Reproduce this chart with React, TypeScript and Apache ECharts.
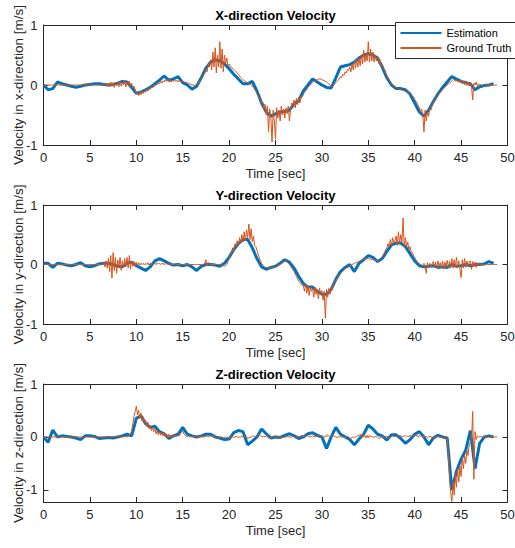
import React, { useEffect, useRef } from "react";
import * as echarts from "echarts";

// ---------------- data ----------------
const titles = ["X-direction Velocity", "Y-direction Velocity", "Z-direction Velocity"];
const yAxisNames = [
  "Velocity in x-direction [m/s]",
  "Velocity in y-direction [m/s]",
  "Velocity in z-direction [m/s]",
];
const xAxisName = "Time [sec]";
const seriesNames = ["Estimation", "Ground Truth"];
const timeMin = 0;
const timeMax = 50;
const timeTickStep = 5;
const yMins = [-1, -1, -1.23];
const yMaxs = [1, 1, 1];
const yTickValues = [-1, 0, 1];

// sample spacing (seconds) of the two signals
const estDt = 0.5;
const gtDt = 0.125;

// Estimation, one value every 0.5 s from 0 s
const estX = [
  0, -0.08, -0.06, 0.05, 0.02, 0, -0.02, -0.04, -0.02, 0,
  0.01, 0.02, 0.02, 0.01, 0, 0.01, 0.03, 0.06, 0.05, -0.04,
  -0.14, -0.12, -0.08, -0.04, 0.02, 0.08, 0.15, 0.08, 0.1, 0.14,
  0.04, 0, -0.07, -0.02, 0.12, 0.28, 0.38, 0.42, 0.4, 0.35,
  0.27, 0.18, 0.1, 0.02, 0.02, 0.06, -0.1, -0.3, -0.45, -0.52,
  -0.48, -0.45, -0.44, -0.42, -0.32, -0.26, -0.1, 0, 0.1, 0.05,
  0, -0.04, -0.05, 0.12, 0.3, 0.32, 0.34, 0.38, 0.45, 0.5,
  0.52, 0.5, 0.45, 0.3, 0.12, 0, -0.06, -0.06, -0.08, -0.15,
  -0.3, -0.45, -0.52, -0.42, -0.28, -0.15, -0.04, 0.05, 0.14, 0.1,
  0.06, 0.04, 0.02, -0.08, -0.03, -0.01, 0, 0.02,
];
const estY = [
  0.02, 0.02, -0.05, 0.02, 0.01, -0.01, -0.02, 0, 0.03, -0.02,
  -0.04, -0.02, 0.01, 0.02, 0.02, 0, -0.03, -0.04, 0.02, 0.04,
  -0.02, -0.06, -0.1, -0.04, 0.06, 0.1, 0.06, 0.02, -0.01, 0,
  -0.02, 0, -0.04, -0.1, -0.03, 0, 0, -0.01, -0.03, 0.02,
  0.12, 0.25, 0.35, 0.42, 0.42, 0.28, 0.1, -0.04, -0.08, -0.05,
  -0.03, 0.02, 0.08, 0.04, -0.06, -0.2, -0.32, -0.38, -0.38, -0.45,
  -0.5, -0.5, -0.42, -0.25, -0.12, -0.05, 0, -0.12, 0.02, 0.08,
  0.15, 0.12, 0.05, 0.1, 0.22, 0.33, 0.36, 0.36, 0.3, 0.18,
  0.06, -0.02, -0.04, -0.03, -0.02, -0.05, -0.04, -0.05, 0, -0.03,
  -0.02, 0, -0.02, 0, 0, 0.01, 0.05, 0.02,
];
const estZ = [
  0, -0.1, 0.13, 0, 0.02, 0.01, 0, -0.02, -0.05, 0.02,
  0.02, 0.01, -0.03, -0.02, -0.01, -0.02, 0, 0.02, 0.05, 0.02,
  0.35, 0.4, 0.25, 0.18, 0.2, 0.1, 0.06, -0.03, 0.02, 0.05,
  0.18, 0.05, 0.02, 0, 0.02, 0.05, 0.05, 0, -0.02, -0.05,
  -0.04, 0.08, 0.12, 0.1, -0.15, -0.08, 0, 0.15, 0.06, -0.02,
  0, -0.01, 0.03, 0.06, 0.02, -0.03, 0, 0.06, 0.08, 0.03,
  0, -0.22, 0, 0.18, 0.05, 0, -0.05, -0.15, -0.04, 0.05,
  0.22, 0.15, 0.05, 0.02, -0.06, 0.04, 0.04, -0.03, -0.12, -0.05,
  0.05, 0.1, 0, -0.15, -0.02, 0.03, 0, -0.02, -1.0, -0.65,
  -0.42, -0.25, 0.12, -0.6, -0.12, 0, 0.02, 0,
];

// Ground truth, one value every 0.125 s from 0 s (8 values per second, one row per second)
const gtX = [
  0, 0, 0, 0, 0, 0, 0, 0,
  0, 0, 0, 0, 0, 0, 0, 0,
  0, 0, 0, 0, 0, 0, 0, 0,
  0, 0, 0, 0, 0, 0, 0, 0,
  0, 0, 0, 0, 0, 0, 0, 0,
  0, 0, 0, 0, 0, 0, 0, 0,
  0, 0, 0, 0, 0.01, -0.01, 0.02, -0.02,
  0.03, -0.03, 0.05, -0.02, 0.04, -0.04, 0.03, -0.01,
  0.05, -0.03, 0.06, -0.02, 0.04, 0, 0.07, -0.03,
  0.05, 0, 0.06, -0.02, 0.03, -0.05, -0.02, -0.08,
  -0.14, -0.1, -0.18, -0.12, -0.16, -0.1, -0.14, -0.09,
  -0.12, -0.07, -0.1, -0.05, -0.07, -0.03, -0.05, -0.01,
  -0.02, 0.02, 0, 0.04, 0.02, 0.06, 0.03, 0.07,
  0.05, 0.09, 0.06, 0.1, 0.06, 0.09, 0.05, 0.08,
  0.06, 0.09, 0.06, 0.08, 0.05, 0.08, 0.05, 0.07,
  0.05, 0.06, 0.04, 0.05, 0.03, 0.03, 0.02, 0.01,
  0, 0, -0.01, 0, 0, 0.02, 0.05, 0.08,
  0.1, 0.14, 0.18, 0.2, 0.26, 0.22, 0.35, 0.3,
  0.42, 0.25, 0.55, 0.3, 0.62, 0.2, 0.5, 0.3,
  0.72, 0.28, 0.6, 0.22, 0.5, 0.35, 0.45, 0.32,
  0.35, 0.3, 0.3, 0.27, 0.26, 0.24, 0.22, 0.2,
  0.18, 0.15, 0.13, 0.11, 0.09, 0.07, 0.06, 0.05,
  0.04, 0.03, 0.02, 0, -0.02, -0.04, -0.07, -0.1,
  -0.14, -0.18, -0.22, -0.25, -0.3, -0.28, -0.4, -0.32,
  -0.5, -0.35, -0.78, -0.4, -0.55, -0.95, -0.42, -0.6,
  -0.9, -0.38, -0.55, -0.42, -0.6, -0.35, -0.5, -0.4,
  -0.55, -0.38, -0.48, -0.35, -0.6, -0.42, -0.3, -0.35,
  -0.25, -0.38, -0.22, -0.33, -0.2, -0.3, -0.18, -0.2,
  -0.16, -0.12, -0.1, -0.07, -0.04, -0.02, 0, 0.02,
  0.04, 0.06, 0.07, 0.08, 0.09, 0.1, 0.1, 0.1,
  0.09, 0.08, 0.07, 0.06, 0.05, 0.04, 0.02, 0,
  -0.02, -0.02, 0, 0.02, 0.04, 0.06, 0.08, 0.1,
  0.14, 0.12, 0.18, 0.16, 0.22, 0.2, 0.26, 0.24,
  0.3, 0.22, 0.35, 0.25, 0.4, 0.28, 0.42, 0.3,
  0.45, 0.32, 0.5, 0.35, 0.58, 0.38, 0.52, 0.4,
  0.72, 0.38, 0.6, 0.4, 0.55, 0.38, 0.5, 0.4,
  0.48, 0.36, 0.42, 0.32, 0.35, 0.28, 0.26, 0.2,
  0.16, 0.12, 0.08, 0.05, 0.02, 0, -0.02, -0.03,
  -0.04, -0.05, -0.06, -0.07, -0.08, -0.08, -0.09, -0.1,
  -0.1, -0.11, -0.12, -0.13, -0.14, -0.16, -0.18, -0.2,
  -0.24, -0.27, -0.3, -0.34, -0.38, -0.45, -0.4, -0.5,
  -0.78, -0.42, -0.6, -0.45, -0.52, -0.38, -0.42, -0.33,
  -0.3, -0.26, -0.23, -0.2, -0.17, -0.14, -0.12, -0.1,
  -0.08, -0.06, -0.04, -0.02, 0, 0.02, 0.03, 0.05,
  0.06, 0.08, 0.1, 0.06, 0.09, 0.05, 0.08, 0.04,
  0.08, 0.02, 0.06, 0, 0.07, -0.01, 0.05, -0.02,
  0.05, -0.02, -0.25, 0.03, 0, 0.05, -0.03, 0.02,
  0, 0.01, -0.01, 0.01, 0, 0, 0, 0,
  0, 0, 0, 0, 0, 0, 0, 0,
];
const gtY = [
  0, 0, 0, 0, 0, 0, 0, 0,
  0, 0, 0, 0, 0, 0, 0, 0,
  0, 0, 0, 0, 0, 0, 0, 0,
  0, 0, 0, 0, 0, 0, 0, 0,
  0, 0, 0, 0, 0, 0, 0, 0,
  0, 0, 0, 0, 0, 0, 0, 0,
  0, 0, 0, 0, 0.03, -0.04, 0.06, -0.06,
  0.1, -0.12, 0.15, -0.23, 0.2, -0.1, 0.12, -0.15,
  0.08, -0.06, 0.12, -0.1, 0.06, -0.05, 0.1, -0.04,
  0.12, -0.06, 0.15, -0.08, 0.06, -0.03, 0.05, -0.02,
  0.04, -0.02, 0.03, -0.01, 0.02, 0, 0.02, -0.01,
  0.02, 0, 0.03, -0.01, 0.02, 0, 0.01, 0,
  0.02, 0, 0.03, 0.01, 0.02, 0, 0.02, 0.01,
  0.01, 0, 0.02, 0, 0.01, 0, 0.01, 0,
  0, 0, 0.01, 0, 0, 0, 0, 0,
  0, 0, 0, 0, 0, 0, 0, 0,
  0, 0, 0, 0, 0, 0, 0, 0,
  0, 0, 0, 0.02, 0.08, -0.02, 0.04, 0,
  0, 0, 0, 0, 0, 0, 0, 0,
  0, 0, -0.01, -0.02, -0.03, -0.02, 0, 0.05,
  0.1, 0.15, 0.2, 0.28, 0.22, 0.35, 0.3, 0.4,
  0.32, 0.45, 0.36, 0.5, 0.38, 0.55, 0.4, 0.58,
  0.45, 0.68, 0.42, 0.6, 0.38, 0.48, 0.32, 0.3,
  0.24, 0.18, 0.12, 0.06, 0.02, -0.01, -0.03, -0.05,
  -0.05, -0.06, -0.06, -0.05, -0.05, -0.05, -0.04, -0.04,
  -0.04, -0.03, -0.02, -0.01, 0, 0.02, 0.04, 0.05,
  0.06, 0.06, 0.04, 0.02, 0, -0.03, -0.06, -0.09,
  -0.12, -0.16, -0.2, -0.24, -0.28, -0.3, -0.33, -0.35,
  -0.36, -0.45, -0.33, -0.48, -0.35, -0.52, -0.38, -0.45,
  -0.4, -0.55, -0.38, -0.5, -0.42, -0.58, -0.4, -0.5,
  -0.44, -0.6, -0.45, -0.9, -0.42, -0.55, -0.4, -0.5,
  -0.38, -0.42, -0.33, -0.3, -0.26, -0.24, -0.2, -0.17,
  -0.15, -0.13, -0.11, -0.09, -0.07, -0.06, -0.05, -0.04,
  -0.03, -0.02, 0, 0.01, 0.02, 0.03, 0.03, 0.04,
  0.05, 0.06, 0.07, 0.08, 0.09, 0.1, 0.1, 0.1,
  0.1, 0.09, 0.09, 0.08, 0.08, 0.08, 0.07, 0.07,
  0.06, 0.07, 0.09, 0.11, 0.13, 0.16, 0.2, 0.25,
  0.28, 0.35, 0.3, 0.42, 0.32, 0.45, 0.35, 0.4,
  0.48, 0.32, 0.55, 0.35, 0.5, 0.38, 0.78, 0.3,
  0.45, 0.3, 0.38, 0.25, 0.3, 0.2, 0.2, 0.15,
  0.12, 0.08, 0.05, 0.03, 0.01, 0, -0.01, -0.02,
  0.02, -0.05, -0.15, 0.03, -0.04, 0.02, -0.03, 0.01,
  0.05, -0.05, 0.04, -0.06, 0.06, -0.04, 0.03, -0.05,
  0.06, -0.08, 0.04, -0.05, 0.07, -0.04, 0.05, -0.06,
  0.1, -0.06, 0.08, -0.04, 0.12, -0.05, 0.06, -0.08,
  -0.22, 0.08, -0.06, 0.1, -0.05, 0.06, -0.04, 0.05,
  0.06, -0.08, 0.05, -0.04, 0.04, -0.05, 0.03, -0.02,
  0.03, -0.02, 0.01, 0, 0, 0, 0, 0,
  0, 0, 0, 0, 0, 0, 0, 0,
];
const gtZ = [
  0, 0, 0, 0, 0, 0, 0, 0,
  0, 0, 0, 0, 0, 0, 0, 0,
  0, 0, 0, 0, 0, 0, 0, 0,
  0, 0, 0, 0, 0, 0, 0, 0,
  0, 0, 0, 0, 0, 0, 0, 0,
  0, 0, 0, 0, 0, 0, 0, 0,
  0, 0, 0, 0, 0, 0, 0, 0,
  0, 0.01, 0, 0.01, 0, 0.01, 0, 0.01,
  0, 0.01, 0, 0.01, 0, 0.01, 0, 0.01,
  0, 0.01, 0.02, 0.05, 0.12, 0.25, 0.38, 0.48,
  0.58, 0.42, 0.5, 0.35, 0.45, 0.3, 0.38, 0.26,
  0.32, 0.2, 0.28, 0.16, 0.22, 0.12, 0.18, 0.1,
  0.16, 0.06, 0.12, 0.04, 0.1, 0.03, 0.08, 0.02,
  0.08, 0, 0.06, -0.02, 0.05, 0, 0.04, -0.01,
  0.04, 0, 0.03, 0.01, 0.03, 0.02, 0.06, 0.08,
  0.12, 0.06, 0.03, 0.01, 0, 0.02, 0, 0.01,
  0, 0.02, 0, 0.03, 0, 0.02, -0.01, 0.02,
  0, 0.02, -0.01, 0.02, 0, 0.03, 0, 0.02,
  0, 0.03, 0, 0.02, 0, -0.01, 0, -0.02,
  0, -0.01, 0, -0.02, -0.01, 0, -0.02, 0,
  -0.03, 0, 0.01, 0, -0.01, 0, 0.01, 0,
  -0.01, 0, 0, 0.02, 0, -0.01, 0.01, 0,
  -0.03, -0.02, -0.01, 0, 0.01, 0.02, 0.01, 0,
  0.03, 0.05, 0.04, 0.02, 0.01, 0, 0.01, 0,
  0.02, 0, -0.02, 0, -0.01, 0, 0.01, -0.01,
  -0.01, 0, 0.01, -0.01, 0, 0.01, 0, -0.01,
  0, -0.01, 0.02, 0, 0.01, -0.02, 0, 0.02,
  0.01, -0.02, 0, 0.02, 0, 0.01, 0.02, 0.03,
  0, 0.01, 0.02, 0.03, 0.02, 0, 0.01, 0,
  0.02, 0, 0.01, 0, 0.02, 0, -0.01, 0.02,
  0.02, 0, -0.01, 0.02, 0, 0.04, 0.02, 0,
  0.01, 0.04, 0.02, 0.01, 0, -0.01, 0, 0,
  0.01, -0.01, 0, 0, -0.01, 0, 0.01, 0,
  -0.02, -0.03, -0.01, 0, -0.02, 0, 0.01, 0.02,
  0.02, 0.05, 0, 0.06, 0.01, 0.03, -0.02, 0.03,
  -0.02, 0.03, 0, 0.01, 0, -0.01, 0.01, 0,
  0, -0.02, -0.03, 0, 0.01, -0.01, 0, 0.01,
  0.01, 0, -0.02, 0, 0.01, 0.02, 0, 0.01,
  0.01, 0.02, 0, 0.03, 0.02, 0.01, 0, 0.02,
  0.02, 0, 0.02, 0, 0.03, 0.01, 0.02, 0.03,
  0.04, 0.02, 0.03, 0, 0.03, 0.01, 0.02, 0,
  0.02, 0, 0.01, -0.01, 0, 0.01, 0, -0.01,
  0, 0.02, -0.02, 0, 0.01, 0, -0.01, 0,
  -0.01, 0, -0.02, -0.01, -0.02, -0.35, -0.8, -1.05,
  -1.22, -0.85, -1.1, -0.7, -0.95, -0.6, -0.85, -0.55,
  -0.75, -0.4, -0.6, -0.35, -0.5, -0.25, -0.35, -0.15,
  -0.1, -0.05, 0.48, -0.8, 0.1, -0.05, 0.02, 0,
  0, 0.01, 0, 0, 0, 0, 0, 0,
  0, 0, 0, 0, 0, 0, 0, 0,
];

const estSets = [estX, estY, estZ];
const gtSets = [gtX, gtY, gtZ];

// ---------------- component ----------------
export default function App() {
  const ref = useRef<HTMLDivElement>(null);

  useEffect(() => {
    if (!ref.current) return;
    const chart = echarts.init(ref.current, null, { renderer: "svg" });

    const FONT = "'Liberation Sans', Arial, Helvetica, sans-serif";
    const AX = "#262626";
    const BLUE = "#0072BD";
    const ORANGE = "#D95319";
    const gridLeft = 43.5;
    const gridWidth = 464;
    const gridTops = [25, 205, 384];
    const gridHeights = [120, 119, 118];

    const toPairs = (vals: number[], dt: number) => vals.map((v, i) => [i * dt, v]);

    const grids = gridTops.map((top, k) => ({
      left: gridLeft,
      top,
      width: gridWidth,
      height: gridHeights[k],
      show: false,
      containLabel: false,
      outerBoundsMode: "none",
    }));

    const xAxes: any[] = [];
    const yAxes: any[] = [];
    const series: any[] = [];

    for (let k = 0; k < 3; k++) {
      const lineStyle = { color: AX, width: 1 };
      xAxes.push({
        gridIndex: k,
        type: "value",
        position: "bottom",
        min: timeMin,
        max: timeMax,
        interval: timeTickStep,
        axisLine: { show: true, onZero: false, lineStyle },
        axisTick: { show: true, inside: true, length: 5, lineStyle },
        axisLabel: { show: true, margin: 6, fontSize: 13, color: AX, fontFamily: FONT },
        splitLine: { show: false },
        name: xAxisName,
        nameLocation: "middle",
        nameGap: 22,
        nameMoveOverlap: false,
        nameTextStyle: { fontSize: 13, color: AX, fontFamily: FONT },
      });
      xAxes.push({
        gridIndex: k,
        type: "value",
        position: "top",
        min: timeMin,
        max: timeMax,
        interval: timeTickStep,
        axisLine: { show: true, onZero: false, lineStyle },
        axisTick: { show: true, inside: true, length: 5, lineStyle },
        axisLabel: { show: false },
        splitLine: { show: false },
      });
      yAxes.push({
        gridIndex: k,
        type: "value",
        position: "left",
        min: yMins[k],
        max: yMaxs[k],
        axisLine: { show: true, onZero: false, lineStyle },
        axisTick: { show: true, inside: true, length: 5, lineStyle, customValues: yTickValues },
        axisLabel: {
          show: true,
          margin: 6,
          fontSize: 13,
          color: AX,
          fontFamily: FONT,
          customValues: yTickValues,
        },
        splitLine: { show: false },
        name: yAxisNames[k],
        nameLocation: "middle",
        nameGap: 18,
        nameMoveOverlap: false,
        nameTextStyle: { fontSize: 13.5, color: AX, fontFamily: FONT },
      });
      yAxes.push({
        gridIndex: k,
        type: "value",
        position: "right",
        min: yMins[k],
        max: yMaxs[k],
        axisLine: { show: true, onZero: false, lineStyle },
        axisTick: { show: true, inside: true, length: 5, lineStyle, customValues: yTickValues },
        axisLabel: { show: false, customValues: yTickValues },
        splitLine: { show: false },
      });

      series.push({
        name: seriesNames[0],
        type: "line",
        xAxisIndex: 2 * k,
        yAxisIndex: 2 * k,
        data: toPairs(estSets[k], estDt),
        symbol: "none",
        showSymbol: false,
        lineStyle: { color: BLUE, width: 3 },
        itemStyle: { color: BLUE },
        z: 2,
      });
      series.push({
        name: seriesNames[1],
        type: "line",
        xAxisIndex: 2 * k,
        yAxisIndex: 2 * k,
        data: toPairs(gtSets[k], gtDt),
        symbol: "none",
        showSymbol: false,
        lineStyle: { color: ORANGE, width: 1 },
        itemStyle: { color: ORANGE },
        z: 3,
      });
    }

    chart.setOption({
      animation: false,
      backgroundColor: "#ffffff",
      title: titles.map((t, k) => ({
        text: t,
        left: gridLeft + gridWidth / 2,
        top: gridTops[k] - 16,
        textAlign: "center",
        padding: 0,
        textStyle: { fontSize: 13, fontWeight: "bold", color: "#000", fontFamily: FONT },
      })),
      legend: {
        data: seriesNames,
        orient: "vertical",
        left: 395.5,
        top: 22.5,
        itemWidth: 41,
        itemHeight: 11,
        itemGap: 4,
        padding: [5, 40, 5, 4],
        borderColor: AX,
        borderWidth: 1,
        backgroundColor: "#ffffff",
        itemStyle: { opacity: 0 },
        textStyle: { fontSize: 11, color: "#000", fontFamily: FONT },
        selectedMode: false,
      },
      grid: grids,
      xAxis: xAxes,
      yAxis: yAxes,
      series,
    });

    return () => chart.dispose();
  }, []);

  return (
    <div
      ref={ref}
      style={{ position: "absolute", left: 0, top: 0, width: 515, height: 548 }}
    />
  );
}
